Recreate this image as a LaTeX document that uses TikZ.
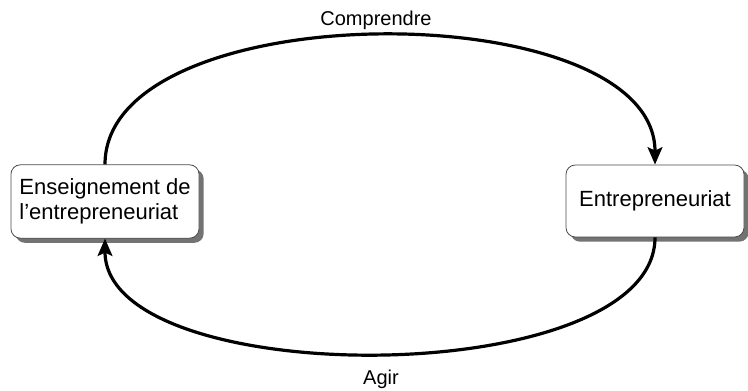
\documentclass[tikz,border=0pt]{standalone}
\usepackage{fontspec}
\setmainfont{Liberation Sans}
\usetikzlibrary{arrows.meta,shadows}
\begin{document}
\begin{tikzpicture}[x=0.75pt,y=-0.75pt,
	boite/.style={draw=black!70,line width=0.6pt,fill=white,rounded corners=7pt,
		drop shadow={shadow xshift=3.5pt,shadow yshift=-3.5pt,fill=black!55,opacity=1},
		font=\fontsize{16.5}{19}\selectfont,inner sep=0pt},
	fleche/.style={line width=2.4pt,-{Stealth[length=13pt,width=11pt,inset=2.5pt]}},
	etiq/.style={font=\fontsize{15}{18}\selectfont,inner sep=0pt}]
	\useasboundingbox (0,0) rectangle (748,391);
	\node[boite,minimum width=141pt,minimum height=55pt,align=left] (ens) at (105,201.5)
		{Enseignement de\\l’entrepreneuriat};
	\node[boite,minimum width=133.5pt,minimum height=54pt] (entr) at (655,201) {Entrepreneuriat};
	\draw[fleche] (ens.north) .. controls +(0,-172) and +(0,-172) .. (entr.north);
	\draw[fleche] (entr.south) .. controls +(0,154) and +(0,154) .. (ens.south);
	\node[etiq] (comp) at (376,20) {Comprendre};
	\node[etiq] (agir) at (381,379) {Agir};
\end{tikzpicture}
\end{document}
